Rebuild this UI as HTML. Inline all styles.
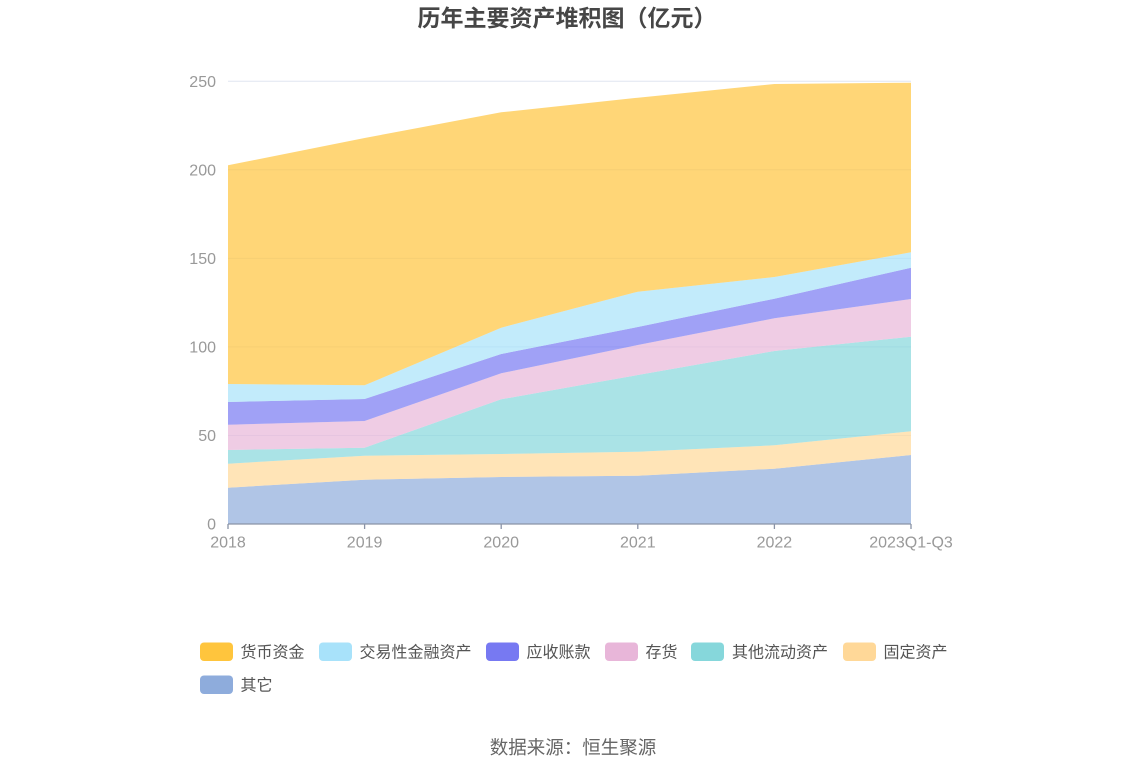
<!DOCTYPE html>
<html>
<head>
<meta charset="utf-8">
<style>
  html, body { margin:0; padding:0; background:#fff; }
  body { width:1148px; height:776px; overflow:hidden; }
  svg { display:block; }
  text { font-family: "Liberation Sans", "Noto Sans CJK SC", sans-serif; }
</style>
</head>
<body>
<svg width="1148" height="776" viewBox="0 0 1148 776" xmlns="http://www.w3.org/2000/svg">
  <rect width="1148" height="776" fill="#fff"/>
  <!-- Title -->
  <text x="567" y="26" text-anchor="middle" font-size="23" font-weight="bold" fill="#464646">历年主要资产堆积图（亿元）</text>

  <!-- gridlines -->
  <g stroke="#E0E6F1" stroke-width="1">
    <line x1="228" y1="81.3" x2="911" y2="81.3"/>
    <line x1="228" y1="169.8" x2="911" y2="169.8"/>
    <line x1="228" y1="258.4" x2="911" y2="258.4"/>
    <line x1="228" y1="346.9" x2="911" y2="346.9"/>
    <line x1="228" y1="435.5" x2="911" y2="435.5"/>
  </g>

  <!-- stacked areas -->
  <g fill-opacity="0.7">
    <polygon fill="#8EACDC" points="228,487.7 364.6,479.7 501.2,477 637.8,475.7 774.4,468.7 911,455 911,524 228,524"/>
    <polygon fill="#FFD898" points="228,463.7 364.6,455.7 501.2,454 637.8,451.7 774.4,445.3 911,431.3 911,455 774.4,468.7 637.8,475.7 501.2,477 364.6,479.7 228,487.7"/>
    <polygon fill="#86D7DB" points="228,450 364.6,447.7 501.2,399.3 637.8,375 774.4,351 911,336.7 911,431.3 774.4,445.3 637.8,451.7 501.2,454 364.6,455.7 228,463.7"/>
    <polygon fill="#E8B6D9" points="228,424.7 364.6,421 501.2,373.3 637.8,345 774.4,318.3 911,299 911,336.7 774.4,351 637.8,375 501.2,399.3 364.6,447.7 228,450"/>
    <polygon fill="#7779F2" points="228,402 364.6,399 501.2,354 637.8,327 774.4,298.7 911,267.7 911,299 774.4,318.3 637.8,345 501.2,373.3 364.6,421 228,424.7"/>
    <polygon fill="#A8E2FA" points="228,384 364.6,385.3 501.2,327.7 637.8,291.7 774.4,277 911,252.3 911,267.7 774.4,298.7 637.8,327 501.2,354 364.6,399 228,402"/>
    <polygon fill="#FFC53D" points="228,165.3 364.6,138 501.2,112.3 637.8,97.7 774.4,84 911,82.7 911,252.3 774.4,277 637.8,291.7 501.2,327.7 364.6,385.3 228,384"/>
  </g>

  <!-- x axis -->
  <g stroke="#8A93A6" stroke-width="1.3">
    <line x1="228" y1="524" x2="911" y2="524"/>
    <line x1="228" y1="524" x2="228" y2="529"/>
    <line x1="364.6" y1="524" x2="364.6" y2="529"/>
    <line x1="501.2" y1="524" x2="501.2" y2="529"/>
    <line x1="637.8" y1="524" x2="637.8" y2="529"/>
    <line x1="774.4" y1="524" x2="774.4" y2="529"/>
    <line x1="911" y1="524" x2="911" y2="529"/>
  </g>

  <!-- y labels -->
  <g font-size="16" fill="#999" text-anchor="end">
    <text x="216" y="87">250</text>
    <text x="216" y="175.5">200</text>
    <text x="216" y="264">150</text>
    <text x="216" y="352.5">100</text>
    <text x="216" y="441">50</text>
    <text x="216" y="529.5">0</text>
  </g>

  <!-- x labels -->
  <g font-size="16" fill="#999" text-anchor="middle">
    <text x="228" y="547.5">2018</text>
    <text x="364.6" y="547.5">2019</text>
    <text x="501.2" y="547.5">2020</text>
    <text x="637.8" y="547.5">2021</text>
    <text x="774.4" y="547.5">2022</text>
    <text x="911" y="547.5">2023Q1-Q3</text>
  </g>

  <!-- legend -->
  <g font-size="16" fill="#555">
    <rect x="200" y="642.5" width="33" height="18.5" rx="4" fill="#FFC53D"/>
    <text x="240.5" y="657.5">货币资金</text>
    <rect x="319" y="642.5" width="33" height="18.5" rx="4" fill="#A8E2FA"/>
    <text x="359.5" y="657.5">交易性金融资产</text>
    <rect x="486" y="642.5" width="33" height="18.5" rx="4" fill="#7779F2"/>
    <text x="526.5" y="657.5">应收账款</text>
    <rect x="605" y="642.5" width="33" height="18.5" rx="4" fill="#E8B6D9"/>
    <text x="645.5" y="657.5">存货</text>
    <rect x="691" y="642.5" width="33" height="18.5" rx="4" fill="#86D7DB"/>
    <text x="732" y="657.5">其他流动资产</text>
    <rect x="843" y="642.5" width="33" height="18.5" rx="4" fill="#FFD898"/>
    <text x="883.5" y="657.5">固定资产</text>
    <rect x="200" y="675.5" width="33" height="18.5" rx="4" fill="#8EACDC"/>
    <text x="240.5" y="690.5">其它</text>
  </g>

  <!-- footer -->
  <text x="573" y="754" text-anchor="middle" font-size="18.5" fill="#666">数据来源：恒生聚源</text>
</svg>
</body>
</html>
